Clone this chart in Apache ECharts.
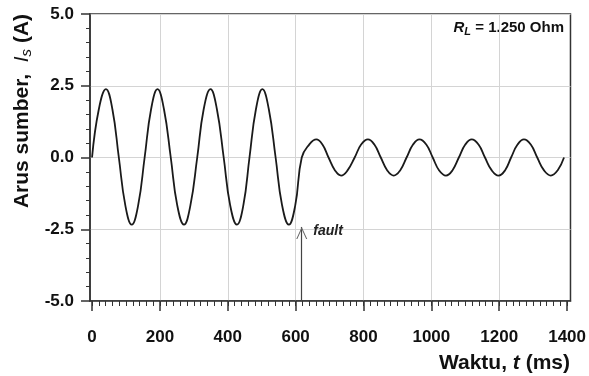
<!DOCTYPE html>
<html><head><meta charset="utf-8">
<script src="https://cdn.jsdelivr.net/npm/echarts@6/dist/echarts.min.js"></script>
<style>html,body{margin:0;padding:0;background:#fff}#c{width:589px;height:376px}</style>
</head><body><div id="c"></div>
<script>
// ---- data ----
const timeMs = [0, 20, 41, 60, 79, 98, 117, 136, 155, 174, 193, 212, 232, 251, 271, 290, 310, 329, 349, 368, 388, 407, 427, 446, 464, 483, 502, 521, 541, 560, 580, 599, 618,
  640, 661, 679, 697, 716, 734, 753, 774, 793, 813, 832, 851, 870, 889, 908, 927, 946, 965, 985, 1004, 1023, 1043, 1062, 1081, 1100, 1119, 1139, 1158, 1178, 1198, 1217, 1235, 1254, 1273, 1293, 1312, 1332, 1352, 1372, 1391];
const currentA = [0, 1.68, 2.38, 1.68, 0, -1.66, -2.34, -1.66, 0, 1.68, 2.38, 1.68, 0, -1.66, -2.34, -1.66, 0, 1.68, 2.38, 1.68, 0, -1.66, -2.34, -1.66, 0, 1.68, 2.38, 1.68, 0, -1.66, -2.34, -1.66, 0,
  0.45, 0.63, 0.45, 0, -0.45, -0.63, -0.45, 0, 0.45, 0.63, 0.45, 0, -0.45, -0.63, -0.45, 0, 0.45, 0.63, 0.45, 0, -0.45, -0.63, -0.45, 0, 0.45, 0.63, 0.45, 0, -0.45, -0.63, -0.45, 0, 0.45, 0.63, 0.45, 0, -0.45, -0.63, -0.45, 0];
const xTickValues = [0, 200, 400, 600, 800, 1000, 1200, 1400];
const xGridValues = [200, 400, 600, 800, 1000, 1200];
const xMinorStep = 20;
const yTickValues = [-5.0, -2.5, 0.0, 2.5, 5.0];
const faultTime = 618;
const faultArrowTip = -2.42;
const faultText = 'fault';
const loadText = ['R', 'L', ' = 1.250 Ohm'];
const xTitle = ['Waktu, ', 't', ' (ms)'];
const yTitle = ['Arus sumber,  ', 'I', 's', ' (A)'];

const X_MIN = -6, X_MAX = 1410;
const FONT = '"Liberation Sans", Arial, sans-serif';
const series = timeMs.map((t, i) => [t, currentA[i]]);
const minorVals = [];
for (let v = 0; v <= xTickValues[xTickValues.length - 1]; v += xMinorStep) minorVals.push(v);

const chart = echarts.init(document.getElementById('c'), null, {renderer: 'canvas'});
const axisColor = '#333';
const gridColor = '#d4d4d4';
const chevron = 'path://M0,11 L5,0 L10,11 L9,11 L5,2.2 L1,11 Z';

chart.setOption({
  animation: false,
  backgroundColor: '#fff',
  grid: {left: 90, right: 18, top: 14, bottom: 75, show: true, borderColor: axisColor, borderWidth: 1.5, backgroundColor: 'transparent'},
  xAxis: [
    {
      type: 'value', min: X_MIN, max: X_MAX, position: 'bottom',
      axisLine: {show: true, onZero: false, lineStyle: {color: axisColor, width: 1.5}},
      axisTick: {show: true, inside: false, length: 10, customValues: xTickValues, lineStyle: {color: axisColor, width: 1.5}},
      axisLabel: {customValues: xTickValues, margin: 28, color: '#111', fontSize: 17, fontWeight: 'bold', fontFamily: FONT, formatter: v => String(v)},
      splitLine: {show: false}
    },
    {
      type: 'value', min: X_MIN, max: X_MAX, position: 'bottom',
      axisLine: {show: false, onZero: false},
      axisTick: {show: true, inside: false, length: 5, customValues: minorVals, lineStyle: {color: axisColor, width: 1}},
      axisLabel: {show: false},
      splitLine: {show: false}
    },
    {
      type: 'value', min: X_MIN, max: X_MAX, position: 'bottom',
      axisLine: {show: false, onZero: false},
      axisTick: {show: false, customValues: xGridValues},
      axisLabel: {show: false},
      splitLine: {show: true, lineStyle: {color: gridColor, width: 1}}
    }
  ],
  yAxis: {
    type: 'value', min: yTickValues[0], max: yTickValues[yTickValues.length - 1], interval: 2.5,
    axisLine: {show: true, onZero: false, lineStyle: {color: axisColor, width: 1.5}},
    axisTick: {show: true, inside: false, length: 9, lineStyle: {color: axisColor, width: 1.5}},
    minorTick: {show: true, splitNumber: 5, length: 4, lineStyle: {color: axisColor, width: 1}},
    axisLabel: {margin: 16, color: '#111', fontSize: 17, fontWeight: 'bold', fontFamily: FONT, formatter: v => v.toFixed(1)},
    splitLine: {show: true, lineStyle: {color: gridColor, width: 1}}
  },
  series: [{
    type: 'line', xAxisIndex: 0, data: series, smooth: 0.45, symbol: 'none',
    lineStyle: {color: '#1a1a1a', width: 1.8},
    markLine: {
      silent: true, symbol: ['none', 'none'], animation: false,
      lineStyle: {color: '#444', width: 1.2, type: 'solid'},
      label: {show: false},
      data: [[{coord: [faultTime, yTickValues[0]]}, {coord: [faultTime, faultArrowTip]}]]
    },
    markPoint: {
      silent: true, animation: false,
      data: [{coord: [faultTime, faultArrowTip], symbol: chevron, symbolSize: [11, 12], symbolOffset: [0, '50%'],
        itemStyle: {color: '#666'},
        label: {show: true, position: 'right', distance: 6, offset: [0, -2], formatter: faultText,
          color: '#222', fontSize: 14, fontWeight: 'bold', fontStyle: 'italic', fontFamily: FONT}}]
    }
  }],
  graphic: [
    {
      type: 'text', x: 564, y: 28,
      style: {
        text: '{i|' + loadText[0] + '}{sub|' + loadText[1] + '}{n|' + loadText[2] + '}',
        align: 'right', verticalAlign: 'middle',
        rich: {
          i: {fontSize: 15, fontWeight: 'bold', fontStyle: 'italic', fontFamily: FONT, fill: '#111'},
          sub: {fontSize: 11, fontWeight: 'bold', fontStyle: 'italic', fontFamily: FONT, fill: '#111', padding: [8, 0, 0, 0]},
          n: {fontSize: 15, fontWeight: 'bold', fontFamily: FONT, fill: '#111'}
        }
      }
    },
    {
      type: 'text', x: 570, y: 363,
      style: {
        text: '{n|' + xTitle[0] + '}{i|' + xTitle[1] + '}{n|' + xTitle[2] + '}',
        align: 'right', verticalAlign: 'middle',
        rich: {
          n: {fontSize: 21, fontWeight: 'bold', fontFamily: FONT, fill: '#111'},
          i: {fontSize: 21, fontWeight: 'bold', fontStyle: 'italic', fontFamily: FONT, fill: '#111'}
        }
      }
    },
    {
      type: 'text', x: 22, y: 111, rotation: Math.PI / 2,
      style: {
        text: '{n|' + yTitle[0] + '}{i|' + yTitle[1] + '}{sub|' + yTitle[2] + '}{n|' + yTitle[3] + '}',
        align: 'center', verticalAlign: 'middle',
        rich: {
          n: {fontSize: 21, fontWeight: 'bold', fontFamily: FONT, fill: '#111'},
          i: {fontSize: 21, fontStyle: 'italic', fontFamily: FONT, fill: '#111'},
          sub: {fontSize: 15, fontStyle: 'italic', fontFamily: FONT, fill: '#111', padding: [10, 0, 0, 0]}
        }
      }
    }
  ]
});
</script>
</body></html>
